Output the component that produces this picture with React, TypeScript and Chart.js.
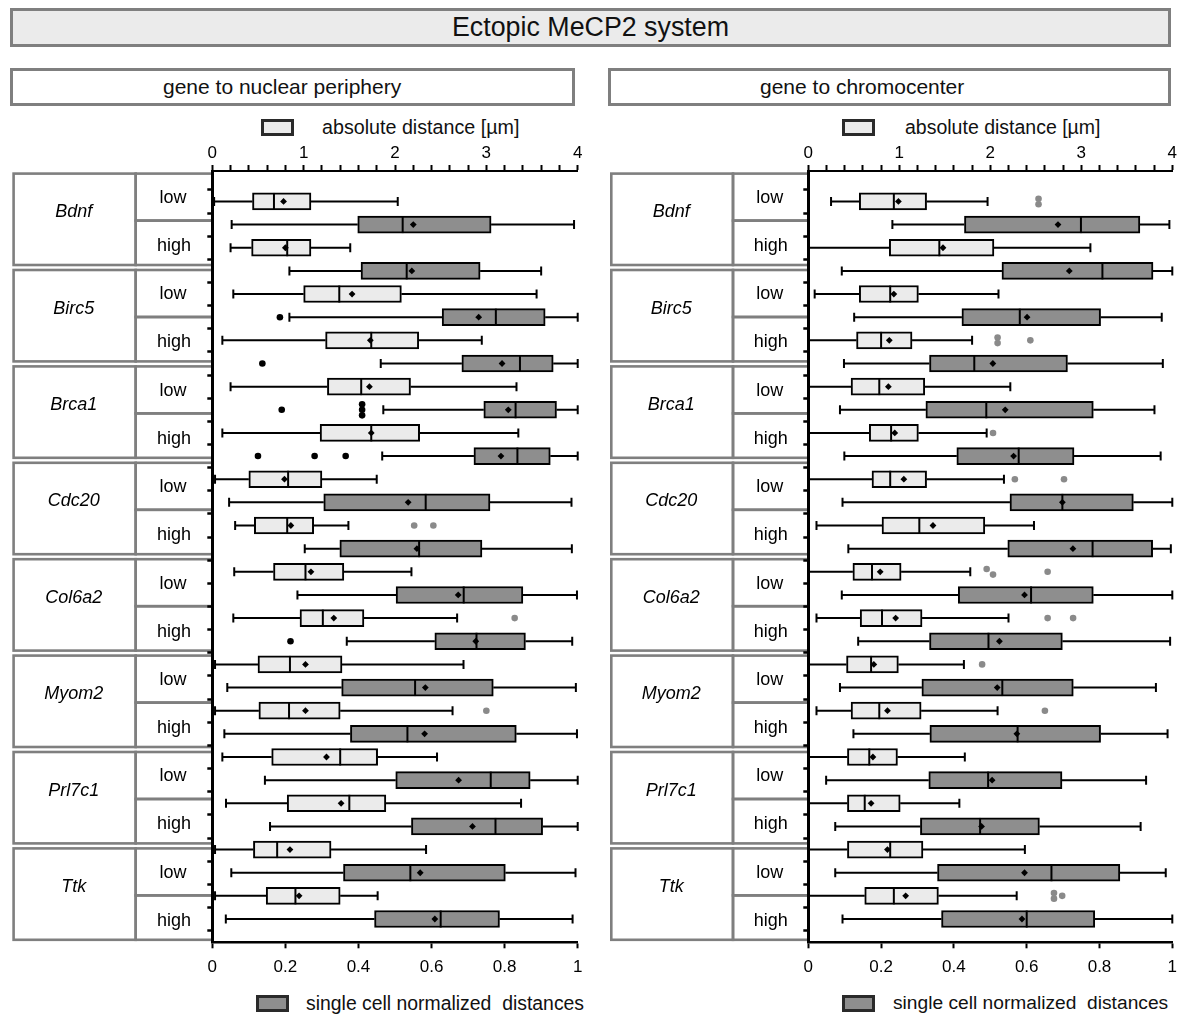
import React, { useEffect, useRef } from 'react';
import { Chart, registerables } from 'chart.js';

Chart.register(...registerables);

const FONT = '"Liberation Sans", Arial, sans-serif';
Chart.defaults.font.family = FONT;

const genes = ['Bdnf', 'Birc5', 'Brca1', 'Cdc20', 'Col6a2', 'Myom2', 'Prl7c1', 'Ttk'];
const levels = ['low', 'high'];
const absTickLabels = [0, 1, 2, 3, 4];
const normTickLabels = [0, 0.2, 0.4, 0.6, 0.8, 1];

type Box = [number, number, number, number, number]; // [min, q1, median, q3, max]

// ---- gene to nuclear periphery ----
// order: Bdnf low, Bdnf high, Birc5 low, Birc5 high, ... Ttk low, Ttk high
const periAbsBox: Box[] = [
  [0.02, 0.44, 0.675, 1.08, 2.03],
  [0.2, 0.43, 0.82, 1.08, 1.51],
  [0.23, 1.0, 1.39, 2.07, 3.55],
  [0.11, 1.24, 1.74, 2.26, 2.95],
  [0.2, 1.26, 1.63, 2.17, 3.33],
  [0.11, 1.18, 1.74, 2.27, 3.35],
  [0.03, 0.4, 0.83, 1.2, 1.8],
  [0.25, 0.46, 0.82, 1.11, 1.49],
  [0.24, 0.67, 1.02, 1.44, 2.18],
  [0.23, 0.96, 1.21, 1.66, 2.68],
  [0.03, 0.5, 0.85, 1.42, 2.75],
  [0.03, 0.51, 0.84, 1.4, 2.63],
  [0.11, 0.65, 1.4, 1.81, 2.46],
  [0.15, 0.82, 1.5, 1.9, 3.38],
  [0.03, 0.45, 0.71, 1.3, 2.34],
  [0.03, 0.59, 0.91, 1.4, 1.81],
];
const periAbsMean = [0.78, 0.8, 1.53, 1.73, 1.72, 1.74, 0.79, 0.86, 1.08, 1.33, 1.02, 1.02, 1.25, 1.41, 0.85, 0.95];
const periAbsOut: number[][] = [[], [], [], [], [], [], [], [2.21, 2.42], [], [3.31], [], [3.0], [], [], [], []];

const periNormBox: Box[] = [
  [0.053, 0.398, 0.521, 0.763, 0.99],
  [0.211, 0.407, 0.532, 0.733, 0.9],
  [0.211, 0.629, 0.776, 0.911, 1.0],
  [0.461, 0.683, 0.842, 0.933, 1.0],
  [0.468, 0.743, 0.83, 0.942, 1.0],
  [0.465, 0.716, 0.835, 0.925, 1.0],
  [0.046, 0.305, 0.584, 0.76, 0.983],
  [0.253, 0.349, 0.566, 0.738, 0.984],
  [0.233, 0.503, 0.688, 0.85, 0.998],
  [0.368, 0.609, 0.723, 0.857, 0.985],
  [0.041, 0.354, 0.555, 0.769, 0.995],
  [0.033, 0.378, 0.534, 0.832, 0.998],
  [0.144, 0.502, 0.762, 0.87, 1.0],
  [0.158, 0.545, 0.775, 0.904, 1.0],
  [0.052, 0.359, 0.542, 0.802, 0.994],
  [0.037, 0.444, 0.625, 0.786, 0.986],
];
const periNormMean = [0.55, 0.546, 0.729, 0.793, 0.81, 0.79, 0.536, 0.56, 0.673, 0.721, 0.583, 0.581, 0.674, 0.712, 0.569, 0.609];
const periNormOut: number[][] = [[], [], [0.185], [0.137], [0.19, 0.41, 0.41, 0.41], [0.125, 0.28, 0.365], [], [], [], [0.214], [], [], [], [], [], []];

// ---- gene to chromocenter ----
const chromAbsBox: Box[] = [
  [0.25, 0.56, 0.94, 1.3, 1.97],
  [0.0, 0.89, 1.44, 2.04, 3.1],
  [0.07, 0.56, 0.9, 1.21, 2.09],
  [0.0, 0.53, 0.8, 1.14, 1.8],
  [0.0, 0.47, 0.78, 1.28, 2.22],
  [0.0, 0.67, 0.91, 1.21, 1.96],
  [0.0, 0.7, 0.9, 1.3, 2.15],
  [0.09, 0.81, 1.22, 1.94, 2.48],
  [0.0, 0.49, 0.7, 1.02, 1.78],
  [0.09, 0.57, 0.81, 1.25, 2.2],
  [0.0, 0.42, 0.69, 0.99, 1.71],
  [0.09, 0.47, 0.78, 1.24, 2.08],
  [0.0, 0.43, 0.67, 0.98, 1.72],
  [0.0, 0.43, 0.62, 1.01, 1.66],
  [0.0, 0.43, 0.9, 1.26, 2.38],
  [0.0, 0.62, 0.94, 1.43, 2.29],
];
const chromAbsMean = [0.99, 1.48, 0.94, 0.89, 0.88, 0.95, 1.05, 1.37, 0.79, 0.96, 0.72, 0.87, 0.71, 0.69, 0.87, 1.07];
const chromAbsOut: number[][] = [
  [2.53, 2.53], [], [], [2.08, 2.08, 2.44], [], [2.03], [2.27, 2.81], [],
  [1.96, 2.03, 2.63], [2.63, 2.91], [1.91], [2.6], [], [], [], [2.7, 2.7, 2.79],
];

const chromNormBox: Box[] = [
  [0.231, 0.429, 0.749, 0.911, 0.992],
  [0.092, 0.532, 0.808, 0.947, 1.0],
  [0.126, 0.422, 0.581, 0.803, 0.971],
  [0.098, 0.333, 0.456, 0.712, 0.974],
  [0.087, 0.323, 0.489, 0.783, 0.951],
  [0.099, 0.408, 0.578, 0.73, 0.968],
  [0.094, 0.554, 0.698, 0.893, 1.0],
  [0.11, 0.548, 0.781, 0.946, 0.996],
  [0.092, 0.412, 0.612, 0.783, 1.0],
  [0.137, 0.333, 0.495, 0.698, 0.994],
  [0.087, 0.312, 0.533, 0.728, 0.955],
  [0.124, 0.334, 0.575, 0.803, 0.987],
  [0.049, 0.331, 0.494, 0.697, 0.928],
  [0.074, 0.308, 0.472, 0.635, 0.913],
  [0.074, 0.355, 0.668, 0.856, 0.982],
  [0.094, 0.366, 0.6, 0.787, 1.0],
];
const chromNormMean = [0.686, 0.717, 0.601, 0.507, 0.541, 0.564, 0.698, 0.727, 0.594, 0.525, 0.519, 0.573, 0.505, 0.476, 0.594, 0.587];
const chromNormOut: number[][] = [[], [], [], [], [], [], [], [], [], [], [], [], [], [], [], []];

// ---- styling / layout ----
const LIGHT = '#ebebeb';
const DARK = '#8e8e8e';
const OUT_GREY = '#8a8a8a';
const TABLE_GREY = '#7f7f7f';
const CANVAS_TOP = 140;
const CANVAS_H = 842;
const AREA_TOP = 171;
const AREA_BOTTOM = 942.3;
const Y_MIN = -0.795;
const Y_MAX = 31.485;
const BLOCK_TOP0 = 172.3;
const BLOCK_STEP = 96.4;
const BLOCK_H = 94;

const rowOf = (k: number, s: number) => Math.floor(k / 2) * 4 + (k % 2) * 2 + s;

function spreadOffsets(vals: number[], tol: number): number[] {
  const idx = vals.map((v, i) => i).sort((a, b) => vals[a] - vals[b]);
  const offs = new Array(vals.length).fill(0);
  let start = 0;
  for (let i = 1; i <= idx.length; i++) {
    if (i === idx.length || vals[idx[i]] - vals[idx[i - 1]] > tol) {
      const n = i - start;
      for (let j = 0; j < n; j++) offs[idx[start + j]] = (j - (n - 1) / 2) * 0.24;
      start = i;
    }
  }
  return offs;
}

interface PanelProps {
  canvasLeft: number;
  canvasWidth: number;
  areaLeft: number;
  areaRight: number;
  geneX0: number;
  divX: number;
  absBox: Box[];
  absMean: number[];
  absOut: number[][];
  normBox: Box[];
  normMean: number[];
  normOut: number[][];
}

function Panel(p: PanelProps) {
  const ref = useRef<HTMLCanvasElement | null>(null);
  useEffect(() => {
    const canvas = ref.current;
    if (!canvas) return;
    const Y_AXIS_W = 10;
    const padL = p.areaLeft - p.canvasLeft - Y_AXIS_W;
    const padR = p.canvasLeft + p.canvasWidth - p.areaRight;
    const topH = AREA_TOP - CANVAS_TOP;
    const botH = CANVAS_TOP + CANVAS_H - AREA_BOTTOM;

    const rows: number[] = [];
    for (let i = 0; i < genes.length * 4; i++) rows.push(i);
    const minorAbs: number[] = [];
    for (let k = 0; k <= absTickLabels[absTickLabels.length - 1] * 5; k++) minorAbs.push(Math.round(k * 2) / 10);

    const absBars = p.absBox.map((b, k) => ({ x: [b[1], b[3]], y: rowOf(k, 0) }));
    const normBars = p.normBox.map((b, k) => ({ x: [b[1], b[3]], y: rowOf(k, 1) }));
    const absMeans = p.absMean.map((m, k) => ({ x: m, y: rowOf(k, 0) }));
    const normMeans = p.normMean.map((m, k) => ({ x: m, y: rowOf(k, 1) }));
    const absOuts: { x: number; y: number }[] = [];
    p.absOut.forEach((vals, k) => {
      const offs = spreadOffsets(vals, 0.08);
      vals.forEach((v, j) => absOuts.push({ x: v, y: rowOf(k, 0) + offs[j] }));
    });
    const normOuts: { x: number; y: number }[] = [];
    p.normOut.forEach((vals, k) => {
      const offs = spreadOffsets(vals, 0.02);
      vals.forEach((v, j) => normOuts.push({ x: v, y: rowOf(k, 1) + offs[j] }));
    });

    const drawWhiskers = (chart: any, boxes: Box[], axisId: string, s: number) => {
      const ctx = chart.ctx;
      const xs = chart.scales[axisId];
      const ys = chart.scales.y;
      ctx.save();
      ctx.strokeStyle = '#000';
      ctx.lineWidth = 2;
      boxes.forEach((b, k) => {
        const y = ys.getPixelForValue(rowOf(k, s));
        const xmin = xs.getPixelForValue(b[0]);
        const xq1 = xs.getPixelForValue(b[1]);
        const xq3 = xs.getPixelForValue(b[3]);
        const xmax = xs.getPixelForValue(b[4]);
        ctx.beginPath();
        ctx.moveTo(xmin, y); ctx.lineTo(xq1, y);
        ctx.moveTo(xq3, y); ctx.lineTo(xmax, y);
        ctx.moveTo(xmin, y - 4.5); ctx.lineTo(xmin, y + 4.5);
        ctx.moveTo(xmax, y - 4.5); ctx.lineTo(xmax, y + 4.5);
        ctx.stroke();
      });
      ctx.restore();
    };
    const drawMedians = (chart: any, boxes: Box[], axisId: string, s: number) => {
      const ctx = chart.ctx;
      const xs = chart.scales[axisId];
      const ys = chart.scales.y;
      ctx.save();
      ctx.strokeStyle = '#000';
      ctx.lineWidth = 2;
      boxes.forEach((b, k) => {
        const y = ys.getPixelForValue(rowOf(k, s));
        const xm = xs.getPixelForValue(b[2]);
        ctx.beginPath();
        ctx.moveTo(xm, y - 8.5); ctx.lineTo(xm, y + 8.5);
        ctx.stroke();
      });
      ctx.restore();
    };

    const boxPlugin = {
      id: 'boxWhisker',
      beforeDatasetsDraw(chart: any) {
        drawWhiskers(chart, p.absBox, 'x2', 0);
        drawWhiskers(chart, p.normBox, 'x', 1);
      },
      afterDatasetDraw(chart: any, args: any) {
        if (args.index === 0) drawMedians(chart, p.absBox, 'x2', 0);
        if (args.index === 1) drawMedians(chart, p.normBox, 'x', 1);
      },
    };

    const tablePlugin = {
      id: 'labelTable',
      beforeDraw(chart: any) {
        const ctx = chart.ctx;
        const ox = p.canvasLeft;
        const oy = CANVAS_TOP;
        const right = chart.chartArea.left;
        ctx.save();
        ctx.strokeStyle = TABLE_GREY;
        ctx.lineWidth = 2.6;
        genes.forEach((g, gi) => {
          const top = BLOCK_TOP0 + gi * BLOCK_STEP - oy + 1.3;
          const bot = top + BLOCK_H - 2.6;
          const x0 = p.geneX0 - ox + 1.3;
          const xd = p.divX - ox;
          const mid = top + 47;
          ctx.strokeRect(x0, top, xd - x0, bot - top);
          ctx.strokeRect(xd, top, right - xd, mid - top);
          ctx.strokeRect(xd, mid, right - xd, bot - mid);
          ctx.fillStyle = '#000';
          ctx.textAlign = 'center';
          ctx.textBaseline = 'middle';
          ctx.font = `italic 18px ${FONT}`;
          ctx.fillText(g, (x0 + xd) / 2 - 1, top + 38.5);
          ctx.font = `18px ${FONT}`;
          ctx.fillText(levels[0], (xd + right) / 2 - 1, top + 24.5);
          ctx.fillText(levels[1], (xd + right) / 2, top + 72.5);
        });
        ctx.restore();
      },
    };

    const tickFont = { size: 17, family: FONT };

    const chart = new Chart(canvas, {
      type: 'bar',
      data: {
        datasets: [
          {
            type: 'bar', xAxisID: 'x2', yAxisID: 'y', data: absBars as any,
            backgroundColor: LIGHT, borderColor: '#000', borderWidth: 2, borderSkipped: false,
            barThickness: 17, grouped: false, order: 3,
          } as any,
          {
            type: 'bar', xAxisID: 'x', yAxisID: 'y', data: normBars as any,
            backgroundColor: DARK, borderColor: '#000', borderWidth: 2, borderSkipped: false,
            barThickness: 17, grouped: false, order: 3,
          } as any,
          {
            type: 'scatter', xAxisID: 'x2', yAxisID: 'y', data: absOuts,
            pointStyle: 'circle', pointRadius: 3.3, backgroundColor: OUT_GREY, borderWidth: 0, order: 2,
          } as any,
          {
            type: 'scatter', xAxisID: 'x', yAxisID: 'y', data: normOuts,
            pointStyle: 'circle', pointRadius: 3.3, backgroundColor: '#000', borderWidth: 0, order: 2,
          } as any,
          {
            type: 'scatter', xAxisID: 'x2', yAxisID: 'y', data: absMeans,
            pointStyle: 'rectRot', pointRadius: 3.4, backgroundColor: '#000', borderColor: '#000', borderWidth: 0, order: 1,
          } as any,
          {
            type: 'scatter', xAxisID: 'x', yAxisID: 'y', data: normMeans,
            pointStyle: 'rectRot', pointRadius: 3.4, backgroundColor: '#000', borderColor: '#000', borderWidth: 0, order: 1,
          } as any,
        ],
      },
      options: {
        indexAxis: 'y',
        animation: false,
        responsive: false,
        maintainAspectRatio: false,
        events: [],
        layout: { padding: { left: padL, right: padR, top: 0, bottom: 0 } },
        plugins: { legend: { display: false }, tooltip: { enabled: false } },
        scales: {
          y: {
            type: 'linear', min: Y_MIN, max: Y_MAX, reverse: true, position: 'left',
            afterBuildTicks: (s: any) => { s.ticks = rows.map((v) => ({ value: v })); },
            ticks: { display: false },
            grid: { drawOnChartArea: false, drawTicks: true, tickLength: 5, tickWidth: 2.5, tickColor: '#000' },
            border: { display: true, color: '#000', width: 3 },
            afterFit: (s: any) => { s.width = Y_AXIS_W; s.paddingTop = 0; s.paddingBottom = 0; },
          },
          x: {
            type: 'linear', position: 'bottom', min: 0, max: 1,
            afterBuildTicks: (s: any) => { s.ticks = normTickLabels.map((v) => ({ value: v })); },
            ticks: { font: tickFont, color: '#000', padding: 9, autoSkip: false, maxRotation: 0, callback: (v: any) => String(v) },
            grid: { drawOnChartArea: false, drawTicks: true, tickLength: 6, tickWidth: 2, tickColor: '#000' },
            border: { display: true, color: '#000', width: 2.5 },
            afterFit: (s: any) => { s.height = botH; s.paddingLeft = 0; s.paddingRight = 0; },
          },
          x2: {
            type: 'linear', position: 'top', min: 0, max: absTickLabels[absTickLabels.length - 1],
            afterBuildTicks: (s: any) => { s.ticks = minorAbs.map((v) => ({ value: v })); },
            ticks: {
              font: tickFont, color: '#000', padding: 1, autoSkip: false, maxRotation: 0,
              callback: (v: any) => (absTickLabels.includes(v) ? String(v) : ''),
            },
            grid: { drawOnChartArea: false, drawTicks: true, tickLength: 6, tickWidth: 2, tickColor: '#000' },
            border: { display: true, color: '#000', width: 2 },
            afterFit: (s: any) => { s.height = topH; s.paddingLeft = 0; s.paddingRight = 0; },
          },
        } as any,
      },
      plugins: [tablePlugin, boxPlugin],
    });
    return () => chart.destroy();
  }, []);
  return (
    <canvas
      ref={ref}
      width={p.canvasWidth}
      height={CANVAS_H}
      style={{ position: 'absolute', left: p.canvasLeft, top: CANVAS_TOP, width: p.canvasWidth, height: CANVAS_H }}
    />
  );
}

function LegendItem(props: { boxLeft: number; boxTop: number; fill: string; textLeft: number; text: string; size: number }) {
  return (
    <>
      <div
        style={{
          position: 'absolute', left: props.boxLeft, top: props.boxTop, width: 33, height: 17,
          boxSizing: 'border-box', border: '3px solid #2a2a2a', background: props.fill,
        }}
      />
      <div
        style={{
          position: 'absolute', left: props.textLeft, top: props.boxTop - 3, height: 22, lineHeight: '22px',
          fontSize: props.size, whiteSpace: 'pre', color: '#111',
        }}
      >
        {props.text}
      </div>
    </>
  );
}

const boxHead: React.CSSProperties = {
  position: 'absolute', boxSizing: 'border-box', border: '3px solid #7f7f7f',
  display: 'flex', alignItems: 'center', color: '#111', whiteSpace: 'pre',
};

export default function App() {
  return (
    <div style={{ position: 'absolute', left: 0, top: 0, width: 1180, height: 1019, background: '#fff', fontFamily: FONT, overflow: 'hidden' }}>
      <div style={{ ...boxHead, left: 10, top: 8, width: 1161, height: 39, background: '#ebebeb', fontSize: 26.8, justifyContent: 'center' }}>
        Ectopic MeCP2 system
      </div>
      <div style={{ ...boxHead, left: 10, top: 68, width: 565, height: 38, background: '#fff', fontSize: 21, paddingLeft: 150 }}>
        gene to nuclear periphery
      </div>
      <div style={{ ...boxHead, left: 608, top: 68, width: 563, height: 38, background: '#fff', fontSize: 21, paddingLeft: 149 }}>
        gene to chromocenter
      </div>
      <LegendItem boxLeft={261} boxTop={119} fill={LIGHT} textLeft={322} size={19.7} text="absolute distance [µm]" />
      <LegendItem boxLeft={842} boxTop={119} fill={LIGHT} textLeft={905} size={19.5} text="absolute distance [µm]" />
      <LegendItem boxLeft={256} boxTop={995} fill={DARK} textLeft={306} size={19.4} text="single cell normalized  distances" />
      <LegendItem boxLeft={842} boxTop={995} fill={DARK} textLeft={893} size={19.2} text="single cell normalized  distances" />
      <Panel
        canvasLeft={0} canvasWidth={595} areaLeft={212.3} areaRight={577.7} geneX0={12.3} divX={135.7}
        absBox={periAbsBox} absMean={periAbsMean} absOut={periAbsOut}
        normBox={periNormBox} normMean={periNormMean} normOut={periNormOut}
      />
      <Panel
        canvasLeft={596} canvasWidth={584} areaLeft={808.3} areaRight={1172.3} geneX0={610} divX={733}
        absBox={chromAbsBox} absMean={chromAbsMean} absOut={chromAbsOut}
        normBox={chromNormBox} normMean={chromNormMean} normOut={chromNormOut}
      />
    </div>
  );
}
